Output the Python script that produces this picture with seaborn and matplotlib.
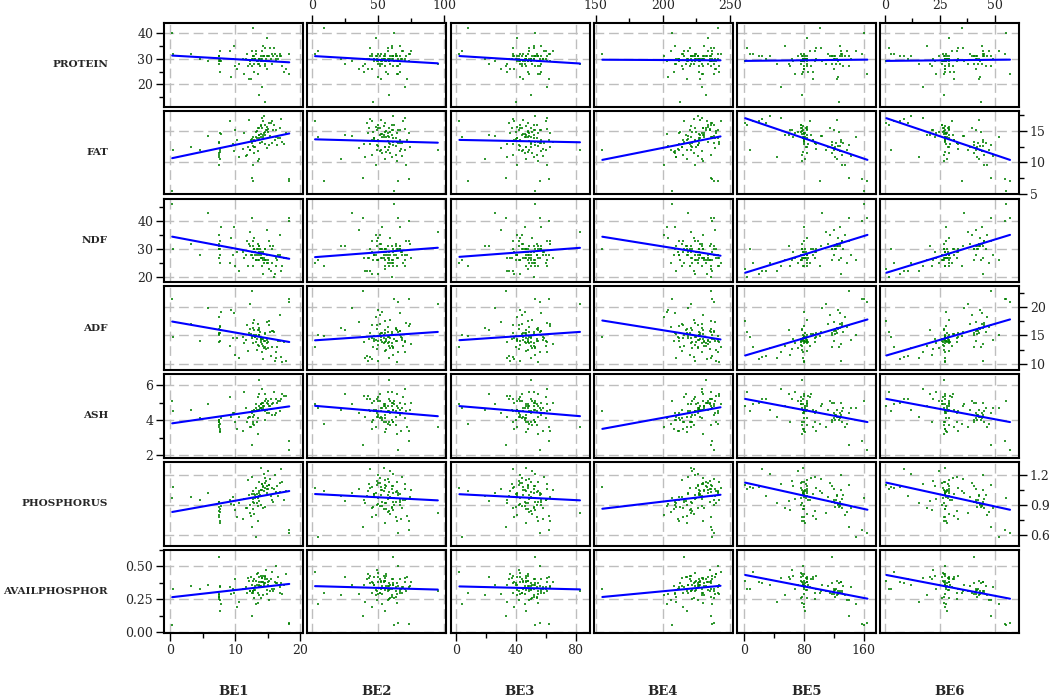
import matplotlib
matplotlib.use("Agg")
import numpy as np
import pandas as pd
import matplotlib.pyplot as plt
import seaborn as sns

# ---------------- data (values read/estimated from the picture) ----------------
BE1 = [0.3, 18.3, 7.5, 4.5, 7.6, 12.5, 9.8, 7.5, 13.2, 3.2,
       0.4, 18.2, 7.5, 10.2, 12.8, 7.7, 5.8, 13.5, 9.4, 11.6,
       7.5, 12.9, 14.1, 7.8, 11.2, 13.6, 9.9, 15.2, 7.6, 12.2,
       13.1, 14.6, 7.5, 12.4, 16.8, 10.5, 13.8, 12.7, 14.9, 9.2,
       13.4, 15.8, 11.9, 14.2, 12.8, 7.6, 16.1, 13.9, 14.5, 11.3,
       14.0, 15.5, 12.6, 13.3, 16.4, 14.8, 13.7, 17.2, 12.1, 15.1,
       14.3, 16.9, 13.5, 15.4, 14.1, 17.5, 13.9, 15.9, 12.9, 14.7,
       15.2, 17.8, 14.4, 16.6, 13.6, 15.7, 14.6, 16.2, 17.1, 14.2,
       13.0, 12.3, 14.4, 7.5, 13.7, 11.8, 15.0, 12.9, 9.6, 13.5,
       13.9, 14.8, 12.6, 15.6, 13.2, 14.1, 16.3, 12.8, 14.5, 13.6]
BE2 = [62, 65, 48, 70, 55, 38, 66, 58, 4, 74,
       52, 73, 60, 45, 71, 57, 30, 64, 50, 68,
       61, 59, 75, 53, 67, 22, 61, 49, 56, 95,
       58, 46, 63, 72, 51, 40, 65, 54, 35, 69,
       47, 66, 55, 60, 9, 73, 50, 62, 44, 57,
       53, 41, 68, 56, 61, 48, 25, 64, 52, 59,
       45, 63, 50, 57, 70, 39, 54, 60, 66, 49,
       55, 42, 61, 47, 58, 2, 51, 65, 44, 56,
       57, 49, 64, 53, 61, 45, 70, 55, 59, 51,
       52, 60, 47, 66, 55, 43, 58, 63, 50, 54]
BE3 = [53, 56, 41, 60, 47, 33, 57, 50, 4, 63,
       45, 62, 52, 39, 61, 49, 26, 55, 43, 58,
       53, 51, 65, 46, 58, 19, 53, 42, 48, 83,
       50, 40, 54, 62, 44, 34, 56, 47, 30, 60,
       41, 57, 47, 52, 8, 63, 43, 54, 38, 49,
       46, 35, 59, 48, 53, 41, 22, 55, 45, 51,
       39, 54, 43, 49, 61, 34, 47, 52, 57, 42,
       48, 36, 53, 41, 50, 2, 44, 56, 38, 48,
       49, 42, 55, 46, 52, 38, 61, 47, 50, 44,
       45, 52, 40, 57, 48, 37, 50, 55, 43, 47]
BE4 = [207, 238, 201, 212, 218, 236, 209, 222, 237, 214,
       155, 237, 210, 215, 224, 206, 219, 230, 204, 226,
       216, 223, 234, 203, 211, 229, 220, 226, 208, 221,
       225, 213, 236, 218, 230, 210, 227, 221, 239, 216,
       228, 235, 214, 231, 241, 212, 224, 238, 220, 229,
       231, 237, 219, 240, 226, 234, 217, 242, 228, 222,
       233, 241, 224, 238, 229, 242, 221, 236, 227, 235,
       236, 240, 226, 239, 232, 243, 230, 241, 223, 237,
       224, 218, 231, 209, 227, 215, 235, 222, 212, 229,
       227, 232, 219, 238, 225, 230, 236, 221, 234, 228]
BE5 = [160, 165, 135, 120, 82, 140, 128, 95, 150, 112,
       8, 158, 122, 80, 131, 138, 105, 78, 126, 143,
       118, 85, 130, 81, 96, 124, 62, 140, 79, 110,
       83, 127, 78, 92, 115, 45, 133, 80, 120, 88,
       79, 121, 84, 55, 102, 81, 130, 76, 97, 68,
       82, 30, 95, 78, 118, 84, 60, 80, 125, 72,
       20, 81, 77, 103, 50, 86, 79, 5, 92, 64,
       2, 80, 35, 84, 78, 12, 90, 79, 25, 66,
       80, 126, 82, 118, 79, 131, 84, 122, 81, 128,
       78, 84, 80, 123, 77, 83, 79, 129, 76, 85]
BE6 = [55.2, 57.0, 46.6, 41.4, 28.3, 48.3, 44.2, 32.8, 51.8, 38.6,
       2.8, 54.5, 42.1, 27.6, 45.2, 47.6, 36.2, 26.9, 43.5, 49.3,
       40.7, 29.3, 44.9, 27.9, 33.1, 42.8, 21.4, 48.3, 27.3, 38.0,
       28.6, 43.8, 26.9, 31.7, 39.7, 15.5, 45.9, 27.6, 41.4, 30.4,
       27.3, 41.7, 29.0, 19.0, 35.2, 27.9, 44.9, 26.2, 33.5, 23.5,
       28.3, 10.4, 32.8, 26.9, 40.7, 29.0, 20.7, 27.6, 43.1, 24.8,
       6.9, 27.9, 26.6, 35.5, 17.3, 29.7, 27.3, 1.7, 31.7, 22.1,
       0.7, 27.6, 12.1, 29.0, 26.9, 4.1, 31.1, 27.3, 8.6, 22.8,
       27.6, 43.5, 28.3, 40.7, 27.3, 45.2, 29.0, 42.1, 27.9, 44.2,
       26.9, 29.0, 27.6, 42.4, 26.6, 28.6, 27.3, 44.5, 26.2, 29.3]
PROTEIN = [40, 24, 31, 30, 30, 27, 35, 29, 33, 32,
           32, 32, 30, 26, 31, 33, 29, 24, 23, 30,
           31, 28, 33, 29, 30, 30, 27, 31, 25, 28,
           30, 13, 31, 22, 31, 28, 27, 30, 26, 33,
           29, 31, 27, 35, 42, 29, 32, 29, 34, 24,
           30, 30, 33, 29, 31, 38, 28, 27, 22, 31,
           31, 32, 29, 34, 19, 25, 31, 34, 25, 30,
           29, 26, 31, 30, 16, 32, 27, 30, 31, 29,
           30, 29, 31, 28, 30, 32, 29, 31, 30, 28,
           29, 31, 30, 28, 32, 30, 29, 31, 28, 30]
FAT = [5.5, 7.0, 9.5, 12.0, 10.5, 7.5, 11.8, 13.0, 14.0, 12.5,
       12.0, 7.3, 10.8, 13.5, 9.6, 11.9, 14.2, 10.2, 12.6, 11.0,
       13.2, 11.4, 13.3, 14.5, 12.1, 10.6, 15.1, 12.8, 11.7, 12.0,
       12.5, 14.8, 11.2, 13.6, 15.5, 10.9, 13.1, 14.0, 12.2, 16.5,
       13.8, 15.2, 12.4, 14.3, 7.0, 14.6, 13.5, 15.9, 12.9, 14.6,
       14.1, 16.2, 13.0, 15.0, 12.7, 15.6, 14.4, 13.3, 16.8, 14.9,
       16.5, 13.8, 15.4, 14.2, 17.0, 12.9, 15.8, 16.0, 13.6, 15.1,
       16.2, 14.7, 17.3, 13.9, 15.5, 16.6, 14.3, 15.2, 16.9, 14.0,
       13.4, 12.0, 14.6, 11.5, 13.9, 11.2, 15.3, 12.4, 12.9, 11.8,
       14.5, 15.2, 13.7, 13.1, 14.8, 15.5, 14.1, 12.6, 16.0, 14.3]
NDF = [46, 41, 35, 28, 30, 41, 38, 27, 26, 32,
       30, 40, 31, 29, 33, 25, 43, 30, 34, 28,
       30, 34, 27, 38, 29, 31, 24, 33, 28, 36,
       29, 26, 32, 28, 35, 22, 30, 27, 37, 25,
       28, 31, 24, 26, 24, 33, 21, 28, 30, 27,
       27, 22, 29, 30, 26, 28, 31, 24, 32, 25,
       21, 28, 26, 31, 24, 27, 29, 20, 30, 26,
       23, 27, 25, 28, 26, 25, 30, 27, 22, 29,
       28, 31, 27, 30, 29, 33, 26, 30, 28, 32,
       27, 25, 28, 30, 26, 27, 24, 31, 26, 28]
ADF = [21.5, 21.0, 18.2, 14.0, 15.5, 22.8, 19.0, 13.8, 15.0, 17.0,
       14.7, 21.5, 15.2, 14.6, 17.3, 16.5, 19.8, 16.0, 19.5, 14.2,
       15.0, 17.8, 13.5, 19.2, 14.8, 16.4, 11.5, 16.9, 14.1, 20.5,
       14.7, 12.9, 16.1, 15.3, 18.6, 11.0, 15.6, 13.7, 17.4, 13.2,
       14.4, 15.8, 12.2, 13.1, 14.9, 16.7, 10.5, 14.3, 15.4, 13.6,
       13.9, 11.4, 14.6, 12.5, 13.0, 14.2, 16.0, 10.3, 15.5, 12.8,
       10.8, 14.1, 13.3, 15.7, 12.1, 13.8, 14.5, 15.6, 15.0, 12.6,
       17.5, 10.5, 12.7, 14.0, 13.1, 13.0, 15.2, 12.0, 11.2, 14.4,
       14.8, 16.2, 14.0, 15.5, 15.0, 16.8, 13.8, 15.9, 14.6, 17.1,
       14.2, 13.6, 14.9, 15.8, 13.9, 14.4, 11.0, 16.3, 14.0, 15.1]
ASH = [5.1, 2.3, 3.6, 4.1, 3.3, 2.6, 4.4, 3.9, 4.7, 4.6,
       4.5, 2.8, 4.0, 3.5, 4.5, 3.8, 4.9, 3.2, 4.2, 4.7,
       3.9, 3.7, 5.0, 4.1, 3.4, 4.6, 3.9, 4.4, 3.5, 3.6,
       4.5, 4.0, 3.7, 3.6, 5.1, 4.2, 4.7, 3.9, 4.4, 5.3,
       4.6, 5.0, 4.1, 4.8, 3.8, 3.4, 4.3, 4.9, 4.5, 5.6,
       4.7, 5.2, 4.4, 3.9, 5.0, 4.6, 5.5, 5.5, 4.2, 5.1,
       5.0, 4.5, 5.3, 4.8, 5.8, 5.4, 4.9, 5.6, 4.6, 5.2,
       4.8, 5.4, 4.6, 5.1, 6.3, 4.9, 5.5, 4.4, 5.2, 4.7,
       4.5, 4.2, 4.8, 4.0, 4.6, 3.9, 4.9, 4.3, 4.4, 4.1,
       4.7, 5.0, 4.5, 4.3, 4.9, 4.6, 5.2, 4.2, 5.1, 4.8]
PHOSPHORUS = [0.97, 0.62, 0.80, 0.95, 0.72, 0.68, 0.90, 0.84, 0.58, 0.98,
              1.08, 0.65, 0.88, 0.78, 0.96, 0.83, 1.02, 0.74, 0.91, 0.87,
              0.93, 0.81, 1.05, 0.89, 0.76, 0.99, 0.85, 1.10, 0.86, 0.82,
              0.97, 0.88, 0.78, 0.79, 1.12, 0.92, 1.00, 0.86, 1.06, 0.95,
              1.01, 0.93, 1.15, 0.87, 1.04, 0.74, 1.20, 0.90, 1.07, 0.96,
              1.05, 0.99, 1.18, 0.92, 1.09, 1.02, 0.94, 1.13, 1.00, 1.24,
              1.08, 1.03, 0.97, 1.16, 1.11, 0.95, 1.27, 1.06, 1.01, 1.14,
              1.10, 1.04, 1.21, 0.99, 1.13, 1.07, 1.17, 1.02, 1.26, 1.09,
              1.00, 0.90, 1.04, 0.93, 1.02, 0.87, 1.06, 0.92, 0.98, 0.89,
              1.05, 1.09, 1.01, 0.95, 1.07, 1.11, 1.03, 0.93, 1.12, 1.04]
AVAILPHOSPHOR = [0.05, 0.07, 0.28, 0.33, 0.16, 0.12, 0.30, 0.25, 0.21, 0.35,
                 0.33, 0.06, 0.27, 0.19, 0.31, 0.24, 0.36, 0.22, 0.29, 0.34,
                 0.57, 0.26, 0.38, 0.21, 0.33, 0.28, 0.40, 0.24, 0.35, 0.31,
                 0.32, 0.37, 0.27, 0.42, 0.30, 0.23, 0.35, 0.39, 0.29, 0.34,
                 0.36, 0.31, 0.41, 0.28, 0.30, 0.34, 0.38, 0.26, 0.43, 0.33,
                 0.35, 0.40, 0.30, 0.44, 0.37, 0.32, 0.42, 0.29, 0.39, 0.36,
                 0.38, 0.34, 0.45, 0.31, 0.41, 0.36, 0.43, 0.33, 0.40, 0.47,
                 0.39, 0.44, 0.36, 0.42, 0.35, 0.46, 0.40, 0.50, 0.37, 0.43,
                 0.35, 0.31, 0.37, 0.29, 0.36, 0.30, 0.38, 0.32, 0.33, 0.30,
                 0.38, 0.40, 0.36, 0.33, 0.39, 0.41, 0.37, 0.31, 0.42, 0.38]

col_vars = ["BE1", "BE2", "BE3", "BE4", "BE5", "BE6"]
row_vars = ["PROTEIN", "FAT", "NDF", "ADF", "ASH", "PHOSPHORUS", "AVAILPHOSPHOR"]

# axis ticks / labels
x_major = {"BE1": [0, 10, 20], "BE2": [0, 50, 100], "BE3": [0, 40, 80],
           "BE4": [150, 200, 250], "BE5": [0, 80, 160], "BE6": [0, 25, 50]}
x_minor = {"BE1": [5, 15], "BE2": [25, 75], "BE3": [20, 60],
           "BE4": [175, 225], "BE5": [40, 120], "BE6": [12.5, 37.5]}
x_ticklabels = {"BE1": ["0", "10", "20"], "BE2": ["0", "50", "100"], "BE3": ["0", "40", "80"],
                "BE4": ["150", "200", "250"], "BE5": ["0", "80", "160"], "BE6": ["0", "25", "50"]}
y_major = {"PROTEIN": [20, 30, 40], "FAT": [5, 10, 15], "NDF": [20, 30, 40],
           "ADF": [10, 15, 20], "ASH": [2, 4, 6], "PHOSPHORUS": [0.6, 0.9, 1.2],
           "AVAILPHOSPHOR": [0.0, 0.25, 0.5]}
y_minor = {"PROTEIN": [15, 25, 35], "FAT": [7.5, 12.5, 17.5], "NDF": [25, 35, 45],
           "ADF": [12.5, 17.5, 22.5], "ASH": [3, 5], "PHOSPHORUS": [0.75, 1.05],
           "AVAILPHOSPHOR": [0.125, 0.375, 0.625]}
y_ticklabels = {"PROTEIN": ["20", "30", "40"], "FAT": ["5", "10", "15"], "NDF": ["20", "30", "40"],
                "ADF": ["10", "15", "20"], "ASH": ["2", "4", "6"],
                "PHOSPHORUS": ["0.6", "0.9", "1.2"], "AVAILPHOSPHOR": ["0.00", "0.25", "0.50"]}
x_limits = {"BE1": (-0.92, 20.46), "BE2": (-3.8, 101.5), "BE3": (-4.0, 89.4),
            "BE4": (148.5, 252.0), "BE5": (-9.3, 176.0), "BE6": (-2.3, 61.0)}
y_limits = {"PROTEIN": (11.4, 43.9), "FAT": (4.9, 18.2), "NDF": (18.2, 48.1),
            "ADF": (8.9, 23.7), "ASH": (1.85, 6.63), "PHOSPHORUS": (0.498, 1.329),
            "AVAILPHOSPHOR": (-0.01, 0.626)}

df = pd.DataFrame({"BE1": BE1, "BE2": BE2, "BE3": BE3, "BE4": BE4, "BE5": BE5, "BE6": BE6,
                   "PROTEIN": PROTEIN, "FAT": FAT, "NDF": NDF, "ADF": ADF, "ASH": ASH,
                   "PHOSPHORUS": PHOSPHORUS, "AVAILPHOSPHOR": AVAILPHOSPHOR})

sns.set_theme(style="white")
plt.rcParams['font.family'] = ['DejaVu Serif']

W, H = 1052, 697
fig = plt.figure(figsize=(W / 100, H / 100), dpi=100)
fig.patch.set_facecolor("white")

left0, col_step, pw = 164.3, 143.1, 139.0
top0, row_step, ph = 23.0, 87.8, 83.5
grid_kw = dict(color="#bebebe", lw=1.0, ls=(0, (7, 3.5)), zorder=0.5)

for r, yv in enumerate(row_vars):
    for c, xv in enumerate(col_vars):
        lx = left0 + c * col_step
        ty = top0 + r * row_step
        ax = fig.add_axes([lx / W, 1 - (ty + ph) / H, pw / W, ph / H])
        ax.set_facecolor("white")
        for t in x_major[xv]:
            ax.axvline(t, **grid_kw)
        for t in y_major[yv]:
            ax.axhline(t, **grid_kw)
        sns.regplot(data=df, x=xv, y=yv, ax=ax, ci=None, truncate=True, marker="s",
                    scatter_kws=dict(s=3, color="#008000", linewidths=0, zorder=2),
                    line_kws=dict(color="#0000ff", lw=1.5, zorder=3))
        ax.set_xlim(*x_limits[xv])
        ax.set_ylim(*y_limits[yv])
        ax.set_xlabel("")
        ax.set_ylabel("")
        for s in ax.spines.values():
            s.set_color("black")
            s.set_linewidth(1.5)
            s.set_zorder(4)

        # x ticks
        show_bottom = (r == len(row_vars) - 1) and (c % 2 == 0)
        show_top = (r == 0) and (c % 2 == 1)
        if show_bottom or show_top:
            ax.set_xticks(x_major[xv])
            ax.set_xticklabels(x_ticklabels[xv])
            ax.set_xticks(x_minor[xv], minor=True)
            ax.tick_params(axis="x", which="both", bottom=show_bottom, top=show_top,
                           labelbottom=show_bottom, labeltop=show_top, direction="out",
                           width=1.0, color="black", labelsize=9, pad=2)
            ax.tick_params(axis="x", which="major", length=6)
            ax.tick_params(axis="x", which="minor", length=3.5)
        else:
            ax.set_xticks([])
            ax.tick_params(axis="x", which="both", bottom=False, top=False,
                           labelbottom=False, labeltop=False)

        # y ticks
        show_left = (c == 0) and (r % 2 == 0)
        show_right = (c == len(col_vars) - 1) and (r % 2 == 1)
        if show_left or show_right:
            ax.set_yticks(y_major[yv])
            ax.set_yticklabels(y_ticklabels[yv])
            ax.set_yticks(y_minor[yv], minor=True)
            ax.tick_params(axis="y", which="both", left=show_left, right=show_right,
                           labelleft=show_left, labelright=show_right, direction="out",
                           width=1.0, color="black", labelsize=9, pad=2)
            ax.tick_params(axis="y", which="major", length=6)
            ax.tick_params(axis="y", which="minor", length=3.5)
        else:
            ax.set_yticks([])
            ax.tick_params(axis="y", which="both", left=False, right=False,
                           labelleft=False, labelright=False)

        if c == 0:
            fig.text(108 / W, 1 - (ty + ph / 2) / H, yv, ha="right", va="center",
                     fontsize=7.5, fontweight="bold")
        if r == len(row_vars) - 1:
            fig.text((lx + pw / 2) / W, 1 - 691.5 / H, xv, ha="center", va="center",
                     fontsize=9.5, fontweight="bold")

fig.savefig("out.png", dpi=100, facecolor="white")
